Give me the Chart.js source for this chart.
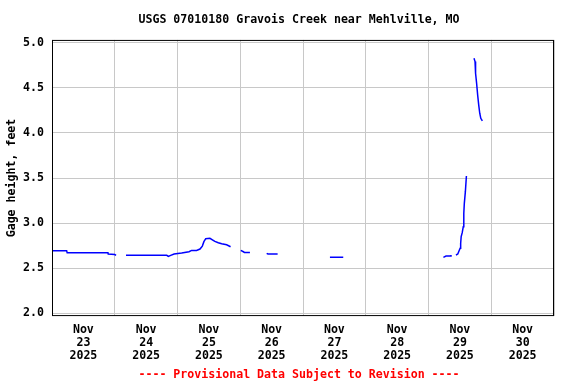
<!DOCTYPE html>
<html>
<head>
<meta charset="utf-8">
<script src="https://cdn.jsdelivr.net/npm/chart.js@4"></script>
<style>
  html, body { margin: 0; padding: 0; background: #fff; }
  #wrap { width: 576px; height: 384px; }
</style>
</head>
<body>
<div id="wrap"><canvas id="gage"></canvas></div>
<script>
// hours since Nov 23 2025 00:00, null = no data
const hours = [
  0, 5.6, 5.8, 21.4, 21.5, 24.0, 24.5, 26,
  28.3, 43.9, 44.5, 45.4, 46.7, 49.6, 52.4, 53.4, 55.3, 56.6, 57.5, 58.1, 58.8,
  60.4, 61.5, 62.3, 63.6, 64.9, 66.8, 68.3, 70,
  72.2, 73.2, 73.6, 75.7, 78,
  82.1, 82.6, 86.3, 95,
  106.3, 111.4, 130,
  149.7, 150.7, 152.5, 152.6, 153.5,
  154.5, 155.2, 155.7, 156.1, 156.3, 156.5, 156.9, 157.3, 157.5, 157.7, 158.1, 158.5, 160,
  161.4, 161.8, 162.0, 162.4, 162.8, 163.2, 163.6, 164.0, 164.6
];
const gageFt = [
  2.692, 2.692, 2.670, 2.670, 2.656, 2.650, 2.641, null,
  2.641, 2.641, 2.630, 2.641, 2.656, 2.667, 2.681, 2.696, 2.696, 2.711, 2.744, 2.793, 2.826,
  2.830, 2.811, 2.796, 2.781, 2.770, 2.759, 2.737, null,
  2.696, 2.681, 2.674, 2.674, null,
  2.663, 2.656, 2.656, null,
  2.619, 2.619, null,
  2.619, 2.633, 2.633, 2.644, null,
  2.644, 2.656, 2.692, 2.720, 2.774, 2.850, 2.893, 2.959, 3.107, 3.219, 3.348, 3.522, null,
  4.830, 4.793, 4.663, 4.552, 4.422, 4.311, 4.219, 4.163, 4.133
];
const yTicks = [2.0, 2.5, 3.0, 3.5, 4.0, 4.5, 5.0];
const dayLabels = ["23", "24", "25", "26", "27", "28", "29", "30"];
const monthLabel = "Nov";
const yearLabel = "2025";

const points = hours.map((h, i) => ({ x: h, y: gageFt[i] }));
const monoFont = { family: "'DejaVu Sans Mono', monospace", size: 11.6, weight: "bold" };

// box around the plot area
const frame = {
  id: "frame",
  afterDraw(chart) {
    const { ctx, chartArea: a } = chart;
    ctx.save();
    ctx.strokeStyle = "#000";
    ctx.lineWidth = 1;
    ctx.strokeRect(a.left + 0.5, a.top + 0.5, a.right - a.left - 1, a.bottom - a.top - 1);
    ctx.restore();
  }
};

new Chart(document.getElementById("gage"), {
  type: "line",
  data: {
    datasets: [{
      data: points,
      borderColor: "#0000ff",
      borderWidth: 1.5,
      pointRadius: 0,
      tension: 0,
      spanGaps: false
    }]
  },
  options: {
    responsive: true,
    maintainAspectRatio: false,
    animation: false,
    layout: { padding: { left: 22, right: 0, top: 0, bottom: 0 } },
    scales: {
      x: {
        type: "linear",
        min: 0,
        max: 192,
        afterFit: (s) => { s.height = 48; },
        grid: {
          drawTicks: false,
          lineWidth: 1,
          color: (c) => (c.tick && c.tick.value % 24 === 0 ? "#c8c8c8" : "rgba(0,0,0,0)")
        },
        border: { display: false },
        ticks: {
          stepSize: 12,
          padding: 7,
          maxRotation: 0,
          autoSkip: false,
          color: "#000",
          font: { ...monoFont, lineHeight: 1.12 },
          callback: (v) => {
            if (v % 24 !== 12) return "";
            return [monthLabel, dayLabels[(v - 12) / 24], yearLabel];
          }
        }
      },
      y: {
        min: 1.967,
        max: 5.033,
        afterFit: (s) => { s.width = 30; },
        afterBuildTicks: (s) => { s.ticks = yTicks.map((v) => ({ value: v })); },
        grid: { drawTicks: false, lineWidth: 1, color: "#c8c8c8" },
        border: { display: false },
        ticks: {
          padding: 8,
          color: "#000",
          font: monoFont,
          callback: (v) => Number(v).toFixed(1)
        },
        title: {
          display: true,
          text: "Gage height, feet",
          color: "#000",
          font: monoFont,
          padding: { top: -17, bottom: 0 }
        }
      },
      y2: {
        position: "right",
        min: 1.967,
        max: 5.033,
        afterFit: (s) => { s.width = 22; },
        grid: { display: false },
        border: { display: false },
        ticks: { display: false }
      }
    },
    plugins: {
      legend: { display: false },
      tooltip: { enabled: false },
      title: {
        display: true,
        text: "USGS 07010180 Gravois Creek near Mehlville, MO",
        color: "#000",
        font: monoFont,
        padding: { top: 13, bottom: 13 }
      },
      subtitle: {
        display: true,
        position: "bottom",
        text: "---- Provisional Data Subject to Revision ----",
        color: "#ff0000",
        font: monoFont,
        padding: { top: 4, bottom: 2 }
      }
    }
  },
  plugins: [frame]
});
</script>
</body>
</html>
